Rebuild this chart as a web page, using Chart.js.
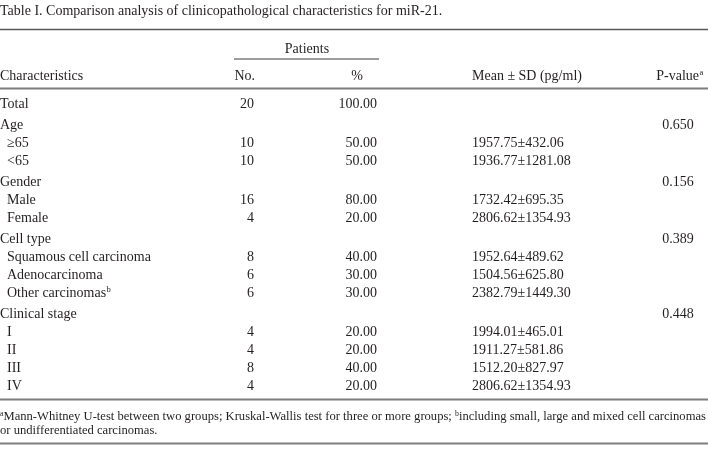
<!DOCTYPE html>
<html>
<head>
<meta charset="utf-8">
<script src="https://cdn.jsdelivr.net/npm/chart.js@4.4.0/dist/chart.umd.min.js"></script>
<style>
  html, body { margin: 0; padding: 0; background: #fff; }
  #wrap { width: 708px; height: 469px; }
</style>
</head>
<body>
<div id="wrap"><canvas id="tableChart" width="708" height="469"></canvas></div>
<script>
// table content
const tableTitle = 'Table I. Comparison analysis of clinicopathological characteristics for miR-21.';
const groupNames = ['Age', 'Gender', 'Cell type', 'Clinical stage'];
const groupPValues = ['0.650', '0.156', '0.389', '0.448'];
const rowLabels = ['Total', '\u226565', '<65', 'Male', 'Female', 'Squamous cell carcinoma',
  'Adenocarcinoma', 'Other carcinomas', 'I', 'II', 'III', 'IV'];
const rowNotes = ['', '', '', '', '', '', '', 'b', '', '', '', ''];
const rowGroups = [-1, 0, 0, 1, 1, 2, 2, 2, 3, 3, 3, 3];
const patientCounts = [20, 10, 10, 16, 4, 8, 6, 6, 4, 4, 8, 4];
const patientPercents = [100, 50, 50, 80, 20, 40, 30, 30, 20, 20, 40, 20];
const meanValues = [null, 1957.75, 1936.77, 1732.42, 2806.62, 1952.64, 1504.56, 2382.79,
  1994.01, 1911.27, 1512.20, 2806.62];
const sdValues = [null, 432.06, 1281.08, 695.35, 1354.93, 489.62, 625.80, 1449.30,
  465.01, 581.86, 827.97, 1354.93];
const footnoteLines = [
  [['a', true], ['Mann-Whitney U-test between two groups; Kruskal-Wallis test for three or more groups; ', false],
   ['b', true], ['including small, large and mixed cell carcinomas', false]],
  [['or undifferentiated carcinomas.', false]]
];

// layout
const FONT = '"Liberation Serif", "Times New Roman", serif';
const BODY = 14;
const TEXT = '#231f20';
const RULE = '#7d7d7d';
const COL = { label: 0, indent: 7, no: 254, pct: 377, mean: 472, p: 678 };
const ROW0 = 108, PITCH = 18, GROUP_GAP = 3;

// flatten groups + rows into printed lines
const lines = [];
let lastGroup = -1, groupsSeen = 0;
rowLabels.forEach((lab, i) => {
  if (rowGroups[i] !== lastGroup && rowGroups[i] >= 0) {
    groupsSeen++;
    lines.push({ label: groupNames[rowGroups[i]], note: '', indent: false, p: groupPValues[rowGroups[i]], g: groupsSeen });
    lastGroup = rowGroups[i];
  }
  lines.push({
    label: lab, note: rowNotes[i], indent: rowGroups[i] >= 0,
    no: String(patientCounts[i]), pct: patientPercents[i].toFixed(2),
    mean: meanValues[i] == null ? '' : meanValues[i].toFixed(2) + '\u00b1' + sdValues[i].toFixed(2),
    g: groupsSeen
  });
});
const lineY = (k) => ROW0 + k * PITCH + lines[k].g * GROUP_GAP;

const makeSet = (name, xFn, textFn, align, noteFn) => {
  const data = [], texts = [], notes = [];
  lines.forEach((ln, k) => {
    const t = textFn(ln);
    if (t === undefined || t === '') return;
    data.push({ x: xFn(ln), y: lineY(k) });
    texts.push(t);
    notes.push(noteFn ? noteFn(ln) : '');
  });
  return { label: name, data, cellText: texts, cellNotes: notes, align, pointRadius: 0 };
};

const datasets = [
  makeSet('Characteristics', ln => ln.indent ? COL.indent : COL.label, ln => ln.label, 'left', ln => ln.note),
  makeSet('No.', () => COL.no, ln => ln.no, 'right'),
  makeSet('%', () => COL.pct, ln => ln.pct, 'right'),
  makeSet('Mean', () => COL.mean, ln => ln.mean, 'left'),
  makeSet('P-value', () => COL.p, ln => ln.p, 'center')
];

function richWidth(ctx, parts, size) {
  let w = 0;
  parts.forEach(([t, sup]) => {
    ctx.font = (sup ? size * 0.62 : size) + 'px ' + FONT;
    w += ctx.measureText(t).width;
  });
  return w;
}

function drawRich(ctx, x, y, parts, size) {
  let cx = x;
  parts.forEach(([t, sup]) => {
    ctx.font = (sup ? size * 0.62 : size) + 'px ' + FONT;
    ctx.textAlign = 'left';
    ctx.fillText(t, cx, sup ? y - size * 0.35 : y);
    cx += ctx.measureText(t).width;
  });
}

function hRule(ctx, sx, x1, x2, y, color, w) {
  ctx.save();
  ctx.strokeStyle = color;
  ctx.lineWidth = w;
  ctx.beginPath();
  ctx.moveTo(sx.getPixelForValue(x1), y);
  ctx.lineTo(sx.getPixelForValue(x2), y);
  ctx.stroke();
  ctx.restore();
}

const tablePlugin = {
  id: 'tablePlugin',
  afterDatasetsDraw(chart) {
    const ctx = chart.ctx;
    const sx = chart.scales.x, sy = chart.scales.y;
    ctx.save();
    ctx.fillStyle = TEXT;
    ctx.textBaseline = 'alphabetic';

    // title
    ctx.font = BODY + 'px ' + FONT;
    ctx.textAlign = 'left';
    ctx.fillText(tableTitle, sx.getPixelForValue(0), sy.getPixelForValue(15));

    // rules
    hRule(ctx, sx, 0, 708, sy.getPixelForValue(29.5), '#5a5a5a', 1.5);
    hRule(ctx, sx, 234, 379, sy.getPixelForValue(59), RULE, 1.5);
    hRule(ctx, sx, 0, 708, sy.getPixelForValue(88.5), RULE, 2);
    hRule(ctx, sx, 0, 708, sy.getPixelForValue(399.5), RULE, 2);
    hRule(ctx, sx, 0, 708, sy.getPixelForValue(443.5), RULE, 2);

    // header
    ctx.font = BODY + 'px ' + FONT;
    ctx.textAlign = 'center';
    ctx.fillText('Patients', sx.getPixelForValue(307), sy.getPixelForValue(53));
    const hy = sy.getPixelForValue(79.5);
    ctx.textAlign = 'left';
    ctx.fillText('Characteristics', sx.getPixelForValue(0), hy);
    ctx.fillText('Mean \u00b1 SD (pg/ml)', sx.getPixelForValue(472), hy);
    ctx.textAlign = 'right';
    ctx.fillText('No.', sx.getPixelForValue(255), hy);
    ctx.fillText('P-value', sx.getPixelForValue(699), hy);
    ctx.textAlign = 'center';
    ctx.fillText('%', sx.getPixelForValue(357), hy);
    ctx.font = '8.5px ' + FONT;
    ctx.textAlign = 'left';
    ctx.fillText('a', sx.getPixelForValue(699.5), hy - 5);

    // cells
    chart.data.datasets.forEach((ds, di) => {
      const meta = chart.getDatasetMeta(di);
      meta.data.forEach((pt, i) => {
        ctx.font = BODY + 'px ' + FONT;
        ctx.textAlign = ds.align;
        ctx.fillText(ds.cellText[i], pt.x, pt.y);
        if (ds.cellNotes[i]) {
          const w = ctx.measureText(ds.cellText[i]).width;
          ctx.font = '8.5px ' + FONT;
          ctx.textAlign = 'left';
          ctx.fillText(ds.cellNotes[i], pt.x + w + 0.5, pt.y - 5);
        }
      });
    });

    // footnotes: shrink to fit the table width
    let fs = 13;
    while (fs > 9 && richWidth(ctx, footnoteLines[0], fs) > 706) fs -= 0.1;
    drawRich(ctx, sx.getPixelForValue(0), sy.getPixelForValue(420), footnoteLines[0], fs);
    drawRich(ctx, sx.getPixelForValue(0), sy.getPixelForValue(433.5), footnoteLines[1], fs);
    ctx.restore();
  }
};

new Chart(document.getElementById('tableChart'), {
  type: 'scatter',
  data: { datasets },
  options: {
    responsive: false,
    animation: false,
    events: [],
    layout: { padding: 0 },
    plugins: { legend: { display: false }, tooltip: { enabled: false } },
    scales: {
      x: { type: 'linear', min: 0, max: 708, display: false },
      y: { type: 'linear', min: 0, max: 469, reverse: true, display: false }
    }
  },
  plugins: [tablePlugin]
});
</script>
</body>
</html>
